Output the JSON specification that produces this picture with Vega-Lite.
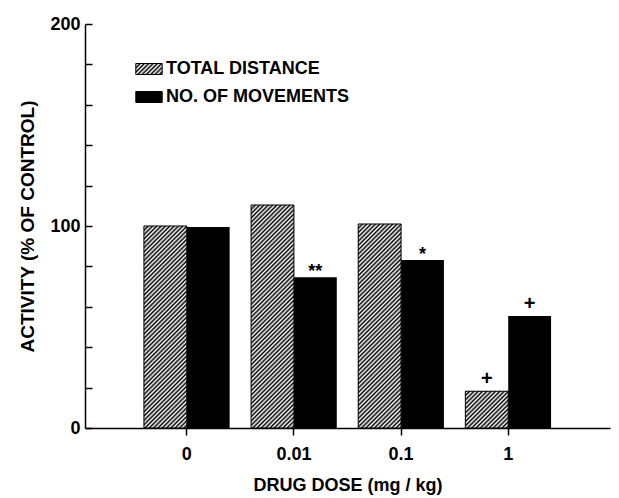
{
  "$schema": "https://vega.github.io/schema/vega-lite/v6.json",
  "width": 525,
  "height": 404,
  "autosize": {"type": "none"},
  "padding": {"left": 85, "top": 24, "right": 9, "bottom": 70},
  "params": [
    {"name": "stops", "value": [
      {"offset":0,"color":"#000"},{"offset":0.008,"color":"#fff"},{"offset":0.016,"color":"#000"},{"offset":0.024,"color":"#fff"},{"offset":0.032,"color":"#000"},{"offset":0.04,"color":"#fff"},{"offset":0.048,"color":"#000"},{"offset":0.056,"color":"#fff"},{"offset":0.064,"color":"#000"},{"offset":0.072,"color":"#fff"},
      {"offset":0.08,"color":"#000"},{"offset":0.088,"color":"#fff"},{"offset":0.096,"color":"#000"},{"offset":0.104,"color":"#fff"},{"offset":0.112,"color":"#000"},{"offset":0.12,"color":"#fff"},{"offset":0.128,"color":"#000"},{"offset":0.136,"color":"#fff"},{"offset":0.144,"color":"#000"},{"offset":0.152,"color":"#fff"},
      {"offset":0.16,"color":"#000"},{"offset":0.168,"color":"#fff"},{"offset":0.176,"color":"#000"},{"offset":0.184,"color":"#fff"},{"offset":0.192,"color":"#000"},{"offset":0.2,"color":"#fff"},{"offset":0.208,"color":"#000"},{"offset":0.216,"color":"#fff"},{"offset":0.224,"color":"#000"},{"offset":0.232,"color":"#fff"},
      {"offset":0.24,"color":"#000"},{"offset":0.248,"color":"#fff"},{"offset":0.256,"color":"#000"},{"offset":0.264,"color":"#fff"},{"offset":0.272,"color":"#000"},{"offset":0.28,"color":"#fff"},{"offset":0.288,"color":"#000"},{"offset":0.296,"color":"#fff"},{"offset":0.304,"color":"#000"},{"offset":0.312,"color":"#fff"},
      {"offset":0.32,"color":"#000"},{"offset":0.328,"color":"#fff"},{"offset":0.336,"color":"#000"},{"offset":0.344,"color":"#fff"},{"offset":0.352,"color":"#000"},{"offset":0.36,"color":"#fff"},{"offset":0.368,"color":"#000"},{"offset":0.376,"color":"#fff"},{"offset":0.384,"color":"#000"},{"offset":0.392,"color":"#fff"},
      {"offset":0.4,"color":"#000"},{"offset":0.408,"color":"#fff"},{"offset":0.416,"color":"#000"},{"offset":0.424,"color":"#fff"},{"offset":0.432,"color":"#000"},{"offset":0.44,"color":"#fff"},{"offset":0.448,"color":"#000"},{"offset":0.456,"color":"#fff"},{"offset":0.464,"color":"#000"},{"offset":0.472,"color":"#fff"},
      {"offset":0.48,"color":"#000"},{"offset":0.488,"color":"#fff"},{"offset":0.496,"color":"#000"},{"offset":0.504,"color":"#fff"},{"offset":0.512,"color":"#000"},{"offset":0.52,"color":"#fff"},{"offset":0.528,"color":"#000"},{"offset":0.536,"color":"#fff"},{"offset":0.544,"color":"#000"},{"offset":0.552,"color":"#fff"},
      {"offset":0.56,"color":"#000"},{"offset":0.568,"color":"#fff"},{"offset":0.576,"color":"#000"},{"offset":0.584,"color":"#fff"},{"offset":0.592,"color":"#000"},{"offset":0.6,"color":"#fff"},{"offset":0.608,"color":"#000"},{"offset":0.616,"color":"#fff"},{"offset":0.624,"color":"#000"},{"offset":0.632,"color":"#fff"},
      {"offset":0.64,"color":"#000"},{"offset":0.648,"color":"#fff"},{"offset":0.656,"color":"#000"},{"offset":0.664,"color":"#fff"},{"offset":0.672,"color":"#000"},{"offset":0.68,"color":"#fff"},{"offset":0.688,"color":"#000"},{"offset":0.696,"color":"#fff"},{"offset":0.704,"color":"#000"},{"offset":0.712,"color":"#fff"},
      {"offset":0.72,"color":"#000"},{"offset":0.728,"color":"#fff"},{"offset":0.736,"color":"#000"},{"offset":0.744,"color":"#fff"},{"offset":0.752,"color":"#000"},{"offset":0.76,"color":"#fff"},{"offset":0.768,"color":"#000"},{"offset":0.776,"color":"#fff"},{"offset":0.784,"color":"#000"},{"offset":0.792,"color":"#fff"},
      {"offset":0.8,"color":"#000"},{"offset":0.808,"color":"#fff"},{"offset":0.816,"color":"#000"},{"offset":0.824,"color":"#fff"},{"offset":0.832,"color":"#000"},{"offset":0.84,"color":"#fff"},{"offset":0.848,"color":"#000"},{"offset":0.856,"color":"#fff"},{"offset":0.864,"color":"#000"},{"offset":0.872,"color":"#fff"},
      {"offset":0.88,"color":"#000"},{"offset":0.888,"color":"#fff"},{"offset":0.896,"color":"#000"},{"offset":0.904,"color":"#fff"},{"offset":0.912,"color":"#000"},{"offset":0.92,"color":"#fff"},{"offset":0.928,"color":"#000"},{"offset":0.936,"color":"#fff"},{"offset":0.944,"color":"#000"},{"offset":0.952,"color":"#fff"},
      {"offset":0.96,"color":"#000"},{"offset":0.968,"color":"#fff"},{"offset":0.976,"color":"#000"},{"offset":0.984,"color":"#fff"},{"offset":0.992,"color":"#000"},{"offset":1,"color":"#fff"}
    ]}
  ],
  "data": {"values": [
    {"dose": "0", "series": "TOTAL DISTANCE", "value": 100, "sig": ""},
    {"dose": "0", "series": "NO. OF MOVEMENTS", "value": 99.5, "sig": ""},
    {"dose": "0.01", "series": "TOTAL DISTANCE", "value": 110.4, "sig": ""},
    {"dose": "0.01", "series": "NO. OF MOVEMENTS", "value": 74.6, "sig": "**"},
    {"dose": "0.1", "series": "TOTAL DISTANCE", "value": 101, "sig": ""},
    {"dose": "0.1", "series": "NO. OF MOVEMENTS", "value": 83.2, "sig": "*"},
    {"dose": "1", "series": "TOTAL DISTANCE", "value": 18.2, "sig": "+"},
    {"dose": "1", "series": "NO. OF MOVEMENTS", "value": 55.4, "sig": "+"}
  ]},
  "encoding": {
    "x": {
      "field": "dose", "type": "nominal", "sort": ["0", "0.01", "0.1", "1"],
      "scale": {"paddingInner": 0.2, "paddingOuter": 0.55},
      "axis": {"title": "DRUG DOSE (mg / kg)", "labelAngle": 0, "tickSize": 7, "labelPadding": 10, "titlePadding": 13}
    },
    "xOffset": {"field": "series", "type": "nominal", "sort": ["TOTAL DISTANCE", "NO. OF MOVEMENTS"]},
    "y": {
      "field": "value", "type": "quantitative",
      "scale": {"domain": [0, 200], "nice": false},
      "axis": {
        "title": "ACTIVITY (% OF CONTROL)", "titleFontSize": 19,
        "values": [0, 20, 40, 60, 80, 100, 120, 140, 160, 180, 200],
        "labelExpr": "datum.value % 100 === 0 ? datum.label : ''",
        "labelOverlap": false, "labelFlush": false,
        "tickSize": -7, "labelPadding": 12, "titlePadding": 12
      }
    }
  },
  "layer": [
    {
      "mark": {"type": "bar"},
      "encoding": {
        "color": {
          "field": "series", "type": "nominal",
          "scale": {
            "domain": ["TOTAL DISTANCE", "NO. OF MOVEMENTS"],
            "range": [{"expr": "{gradient:'linear',x1:0,y1:0,x2:8.714,y2:3.631,stops:stops}"}, "black"]
          },
          "legend": {
            "orient": "none", "legendX": 55, "legendY": 36, "title": null,
            "symbolType": "M-2.4,-1H2.4V1H-2.4Z", "symbolSize": 121,
            "labelOffset": 8, "rowPadding": 10, "padding": 0,
            "symbolStrokeColor": "black", "symbolStrokeWidth": 1
          }
        }
      }
    },
    {
      "transform": [{"filter": "datum.series === 'TOTAL DISTANCE'"}],
      "mark": {
        "type": "bar", "stroke": "black", "strokeWidth": 1,
        "fill": {"expr": "{gradient:'linear',x1:0,y1:0,x2:42.86*270/(1837+pow(datum.value*2.02,2)),y2:datum.value*2.02*270/(1837+pow(datum.value*2.02,2)),stops:stops}"}
      }
    },
    {
      "transform": [{"filter": "datum.sig === '*' || datum.sig === '**'"}],
      "mark": {"type": "text", "baseline": "alphabetic", "dy": 0, "fontSize": 18, "fontWeight": "bold", "font": "Liberation Sans", "color": "black"},
      "encoding": {"text": {"field": "sig"}}
    },
    {
      "transform": [{"filter": "datum.sig === '+'"}],
      "mark": {"type": "text", "baseline": "alphabetic", "dy": -6, "fontSize": 20, "fontWeight": "bold", "font": "Liberation Sans", "color": "black"},
      "encoding": {"text": {"field": "sig"}}
    }
  ],
  "config": {
    "font": "Liberation Sans",
    "view": {"stroke": null},
    "axis": {
      "labelFont": "Liberation Sans", "titleFont": "Liberation Sans",
      "labelFontWeight": "bold", "titleFontWeight": "bold",
      "labelColor": "black", "titleColor": "black",
      "domainColor": "black", "tickColor": "black",
      "labelFontSize": 18, "titleFontSize": 18,
      "domainWidth": 1.5, "tickWidth": 1.5, "grid": false
    },
    "legend": {
      "labelFont": "Liberation Sans", "labelFontWeight": "bold",
      "labelFontSize": 18, "labelColor": "black", "labelLimit": 400
    }
  }
}
